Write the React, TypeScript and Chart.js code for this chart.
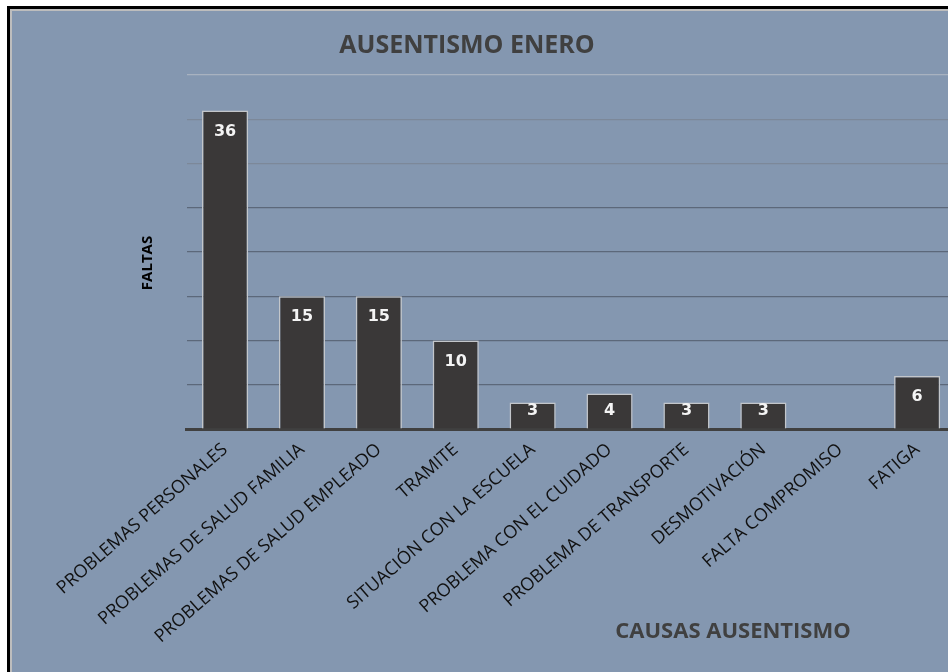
import React, { useEffect, useRef } from "react";
import { Chart, registerables } from "chart.js";

Chart.register(...registerables);

const chartTitle = "AUSENTISMO ENERO";
const xAxisTitle = "CAUSAS AUSENTISMO";
const yAxisTitle = "FALTAS";

const categories = [
  "PROBLEMAS PERSONALES",
  "PROBLEMAS DE SALUD FAMILIA",
  "PROBLEMAS DE SALUD EMPLEADO",
  "TRAMITE",
  "SITUACIÓN CON LA ESCUELA",
  "PROBLEMA CON EL CUIDADO",
  "PROBLEMA DE TRANSPORTE",
  "DESMOTIVACIÓN",
  "FALTA COMPROMISO",
  "FATIGA",
];

const faltas: (number | null)[] = [36, 15, 15, 10, 3, 4, 3, 3, null, 6];

const yMin = 0;
const yMax = 40;
const yStep = 5;

const BG = "#8497B0";
const BAR = "#3A3838";

const textPlugin = {
  id: "customTexts",
  afterDatasetsDraw(chart: any) {
    const ctx = chart.ctx;
    const meta = chart.getDatasetMeta(0);
    ctx.save();
    ctx.fillStyle = "#F4F4F4";
    ctx.font = "bold 16px 'DejaVu Sans'";
    ctx.textAlign = "center";
    ctx.textBaseline = "middle";
    meta.data.forEach((el: any, i: number) => {
      const v = faltas[i];
      if (v === null || v === undefined) return;
      const p = el.getProps(["x", "y", "base"], true);
      const ty = Math.min(p.y + 21, p.base - 18);
      ctx.fillText(String(v), p.x, ty);
    });
    ctx.restore();
  },
  afterDraw(chart: any) {
    const ctx = chart.ctx;
    const a = chart.chartArea;
    ctx.save();
    ctx.textAlign = "center";
    ctx.textBaseline = "middle";
    // chart title
    ctx.fillStyle = "#404040";
    ctx.font = "bold 25px 'Open Sans'";
    ctx.fillText(chartTitle, 467, a.top - 29, 261);
    // x axis title
    ctx.font = "bold 22px 'Open Sans'";
    ctx.fillText(xAxisTitle, 733, 632, 244);
    // y axis title
    ctx.translate(148, 263);
    ctx.rotate(-Math.PI / 2);
    ctx.fillStyle = "#000000";
    ctx.font = "bold 15px 'Open Sans'";
    ctx.fillText(yAxisTitle, 0, 0);
    ctx.restore();
  },
};

function BarChart() {
  const ref = useRef<HTMLCanvasElement | null>(null);
  useEffect(() => {
    if (!ref.current) return;
    const chart = new Chart(ref.current, {
      type: "bar",
      data: {
        labels: categories,
        datasets: [
          {
            data: faltas,
            backgroundColor: BAR,
            borderColor: "#C3C6CA",
            borderWidth: 1.5,
            borderSkipped: "bottom",
            barPercentage: 0.6,
            categoryPercentage: 1,
          },
        ],
      },
      options: {
        animation: false,
        responsive: false,
        devicePixelRatio: 1,
        layout: { padding: { left: 0, top: 75, right: 16.4, bottom: 0 } },
        plugins: {
          legend: { display: false },
          title: { display: false },
          tooltip: { enabled: false },
        },
        scales: {
          x: {
            z: 1,
            grid: { display: false, drawTicks: false },
            border: { display: true, color: "#404040", width: 3 },
            ticks: {
              autoSkip: false,
              maxRotation: 41,
              minRotation: 41,
              padding: 10,
              color: "#111111",
              font: { family: "'Open Sans'", size: 18 },
            },
            afterFit: (s: any) => {
              s.height = 243;
            },
          },
          y: {
            min: yMin,
            max: yMax,
            ticks: { stepSize: yStep, display: false },
            border: { display: false },
            grid: {
              drawTicks: false,
              lineWidth: 1.2,
              color: (c: any) => {
                const v = c.tick ? c.tick.value : 0;
                if (v >= 40) return "#A8B2C0";
                if (v >= 30) return "#7C8899";
                return "#5C687A";
              },
            },
            afterFit: (s: any) => {
              s.width = 186.6;
            },
          },
        },
      },
      plugins: [textPlugin],
    });
    return () => chart.destroy();
  }, []);
  return (
    <canvas
      ref={ref}
      width={972}
      height={672}
      style={{ position: "absolute", left: 0, top: 0, width: 972, height: 672 }}
    />
  );
}

export default function App() {
  return (
    <div
      style={{
        position: "fixed",
        left: 0,
        top: 0,
        width: 948,
        height: 672,
        overflow: "hidden",
        background: "#FFFFFF",
      }}
    >
      <div
        style={{
          position: "absolute",
          left: 7,
          top: 6,
          width: 980,
          height: 700,
          borderLeft: "3px solid #000000",
          borderTop: "3px solid #000000",
          background: BG,
          boxShadow: "inset 2px 2px 0 #BDBDBD",
        }}
      />
      <BarChart />
    </div>
  );
}
